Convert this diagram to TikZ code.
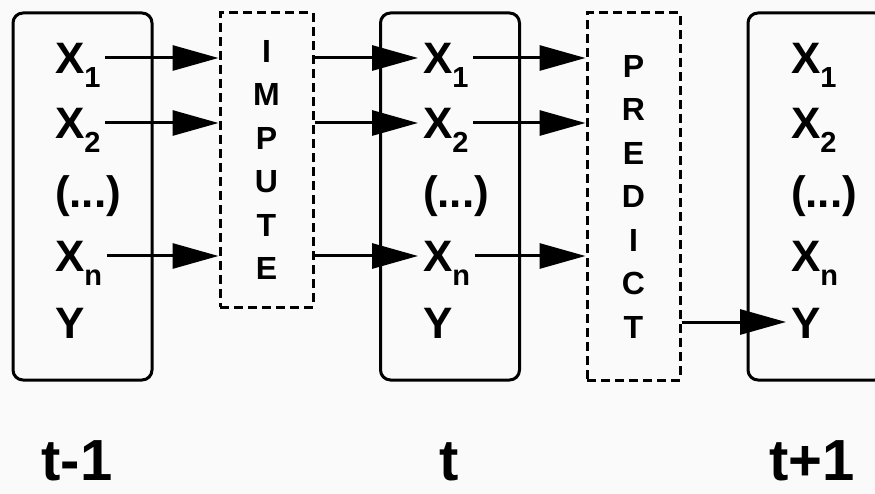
\documentclass[tikz,border=0pt]{standalone}
\usepackage{fontspec}
\setmainfont{Liberation Sans}
\usetikzlibrary{arrows.meta}
\newcommand{\sub}[1]{\raisebox{-14pt}[0pt][0pt]{\fontsize{29}{29}\selectfont #1}}
\tikzstyle{slice}=[draw, line width=3pt, rounded corners=10pt, minimum width=139pt, minimum height=367pt]
\tikzstyle{stage}=[draw, line width=3pt, dash pattern=on 9pt off 5pt, minimum width=93pt, align=center,
                   font=\fontsize{32}{43.5}\selectfont\bfseries]
\tikzstyle{var}=[inner sep=0, outer xsep=5pt, anchor=west, text height=32pt, text depth=0pt,
                 font=\fontsize{44}{44}\selectfont\bfseries]
\tikzstyle{timelabel}=[inner sep=0, anchor=south, text height=42pt, text depth=0pt,
                       font=\fontsize{58}{58}\selectfont\bfseries]
\tikzstyle{flow}=[line width=3pt, -{Triangle[length=46pt, width=25pt]}]

\begin{document}
\begin{tikzpicture}[x=1pt, y=-1pt]
    \fill[gray!4] (0,0) rectangle (875,494);
    \clip (0,0) rectangle (875,494);
    % time slices and the two steps between them
    \node[slice] (prev) at (82.5,196.5) {};
    \node[slice] (curr) at (450,196.5) {};
    \node[slice, minimum width=137pt] (next) at (816.5,196.5) {};
    \node[stage, minimum height=294pt] (impute) at (266.5,160) {I\\M\\P\\U\\T\\E};
    \node[stage, minimum height=367pt] (predict) at (633.5,196.5) {P\\R\\E\\D\\I\\C\\T};
    \foreach \s/\x in {prev/50, curr/418, next/786} {
        \node[var] (\s-x1) at (\x,58) {X\sub{1}};
        \node[var] (\s-x2) at (\x,123) {X\sub{2}};
        \node[var] (\s-dots) at (\x,192) {(...)};
        \node[var] (\s-xn) at (\x,256) {X\sub{n}};
        \node[var] (\s-y) at (\x,322) {Y};
    }
    \foreach \r in {x1,x2,xn} {
        \draw[flow] (prev-\r.east) -- (prev-\r.east -| impute.west);
        \draw[flow] (impute.east |- curr-\r.west) -- (curr-\r.west);
        \draw[flow] (curr-\r.east) -- (curr-\r.east -| predict.west);
    }
    \draw[flow] (predict.east |- next-y.west) -- (next-y.west);
    \node[timelabel] (tprev) at (77,481) {t-1};
    \node[timelabel] (tcurr) at (449,481) {t};
    \node[timelabel] (tnext) at (812,481) {t+1};
\end{tikzpicture}
\end{document}
